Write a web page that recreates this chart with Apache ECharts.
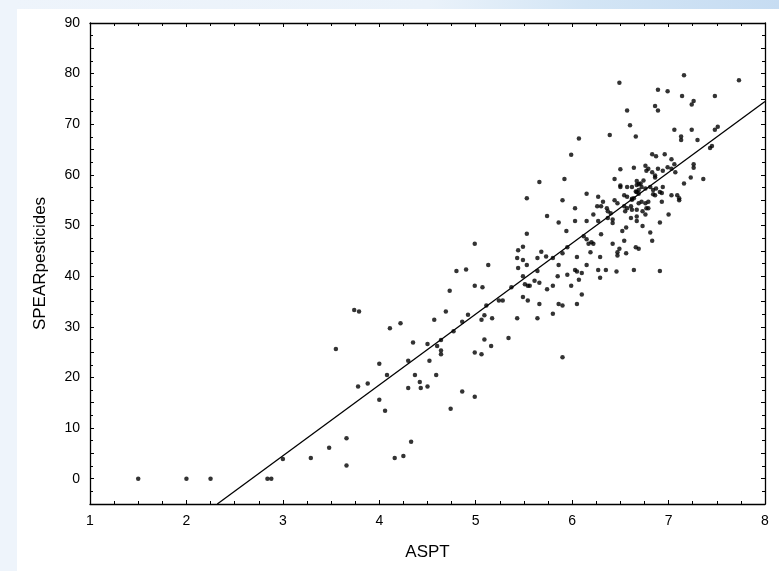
<!DOCTYPE html>
<html>
<head>
<meta charset="utf-8">
<script src="https://cdn.jsdelivr.net/npm/echarts@6/dist/echarts.min.js"></script>
<style>
html,body{margin:0;padding:0;width:779px;height:571px;overflow:hidden;}
body{background:linear-gradient(90deg,#eef4fb 0%,#eaf2fa 55%,#d3e5f5 75%,#c6dcf2 100%);position:relative;}
#panel{position:absolute;left:17px;top:9px;right:0;bottom:0;background:#fff;}
#leftstrip{position:absolute;left:0;top:0;width:17px;height:571px;background:#eef4fb;}
#chart{position:absolute;left:0;top:0;width:779px;height:571px;}
</style>
</head>
<body>
<div id="leftstrip"></div>
<div id="panel"></div>
<div id="chart"></div>
<script>
// Scatter data: ASPT (x) and SPEARpesticides (y)
const aspt = [
1.5,2.0,2.25,2.84,2.88,3.0,3.29,3.48,3.55,3.66,3.66,3.74,3.79,3.78,3.88,4.0,4.0,4.06,4.08,4.11,
4.16,4.22,4.25,4.30,4.30,4.33,4.35,4.37,4.42,4.43,4.50,4.50,4.52,4.57,4.59,4.60,4.64,4.64,4.64,4.69,
4.73,4.74,4.77,4.80,4.86,4.86,4.90,4.92,4.99,4.99,4.99,4.99,5.06,5.06,5.07,5.09,5.09,5.11,5.13,5.16,
5.17,5.24,5.28,5.34,5.37,5.43,5.43,5.44,5.44,5.49,5.49,5.49,5.49,5.51,5.53,5.53,5.53,5.54,5.54,5.56,
5.61,5.64,5.64,5.64,5.66,5.66,5.66,5.68,5.73,5.74,5.74,5.80,5.80,5.80,5.85,5.86,5.86,5.86,5.90,5.90,
5.90,5.90,5.92,5.94,5.95,5.95,5.99,5.99,
6.03,6.03,6.03,6.05,6.05,6.05,6.07,6.07,6.10,6.10,6.12,6.15,6.15,6.15,6.15,6.17,6.19,6.20,6.22,6.22,
6.26,6.27,6.27,6.27,6.29,6.29,6.30,6.30,6.32,6.35,6.36,6.37,6.37,6.39,6.40,6.42,6.42,6.42,6.44,6.44,
6.46,6.47,6.47,6.47,6.49,6.49,6.50,6.50,6.50,6.52,6.54,6.54,6.54,6.55,6.56,6.56,6.57,6.57,6.57,6.57,
6.60,6.61,6.61,6.62,6.62,6.62,6.62,6.64,6.64,6.64,6.66,6.66,6.66,6.67,6.67,6.67,6.67,6.67,6.67,6.69,
6.69,6.69,6.69,6.69,6.71,6.72,6.72,6.73,6.73,6.74,6.76,6.76,6.76,6.76,6.77,6.77,6.79,6.79,6.79,6.81,
6.81,6.83,6.83,6.83,6.84,6.84,6.86,6.86,6.86,6.86,6.87,6.87,6.89,6.89,6.89,6.91,6.91,6.91,6.93,6.93,
6.94,6.94,6.96,6.99,6.99,7.00,7.03,7.03,7.03,7.06,7.06,7.07,7.09,7.11,7.11,7.13,7.13,7.14,7.16,7.16,
7.23,7.24,7.24,7.26,7.26,7.26,7.30,7.36,7.43,7.45,7.48,7.48,7.51,7.73
];
const spear = [
0,0,0,0,0,3.9,4.1,6.1,25.6,8.0,2.6,33.3,33.0,18.2,18.8,22.7,15.6,13.4,20.5,29.7,
4.1,30.7,4.5,23.3,17.9,7.3,26.9,20.5,19.1,17.9,26.6,18.2,23.3,31.4,20.5,26.2,27.4,25.3,24.6,33.0,
37.1,13.8,29.1,41.0,31.0,17.2,41.3,32.4,46.4,38.1,24.9,16.2,31.4,24.6,37.8,32.3,27.5,34.2,42.2,26.2,
31.7,35.2,35.2,27.8,37.8,43.6,31.7,45.1,41.6,45.8,43.2,40.0,35.9,38.4,55.4,48.4,42.2,38.1,35.2,38.1,
39.1,43.6,41.0,31.7,58.6,38.7,34.5,44.8,43.9,51.9,37.4,43.6,38.1,32.6,40.0,50.6,42.2,34.5,55.0,44.5,
34.2,24.0,59.2,48.9,45.7,40.3,64.0,38.1,
53.4,50.9,41.2,43.8,40.9,34.5,67.2,39.3,40.6,36.4,47.9,56.3,50.9,47.3,42.2,46.4,44.7,46.7,52.2,46.4,
53.8,55.7,50.9,41.2,43.8,39.7,53.8,48.3,54.7,41.2,53.4,52.8,51.5,67.9,52.4,51.2,50.5,46.4,59.2,55.0,
40.9,54.4,44.7,44.1,78.2,45.4,61.1,57.9,57.6,48.9,56.0,53.8,47.0,52.8,49.6,44.5,72.7,57.6,55.7,53.4,
69.8,53.8,51.5,57.6,55.3,53.1,55.1,61.4,55.4,41.2,67.6,45.7,56.7,58.8,56.6,53.1,51.8,50.9,58.0,58.2,
56.3,57.0,54.4,45.4,58.3,57.6,54.7,52.8,49.9,58.9,61.8,57.3,54.4,52.2,60.8,53.4,61.2,54.7,53.4,57.6,
48.6,64.1,60.5,47.0,57.0,56.2,73.6,59.9,59.5,56.0,63.7,57.3,76.8,72.7,61.2,56.6,50.6,41.0,56.4,54.7,
60.8,57.6,64.1,76.5,61.5,52.2,63.1,61.2,56.0,68.9,62.1,60.5,56.0,55.4,55.0,67.6,66.9,75.6,79.7,58.3,
59.5,73.9,68.9,74.6,62.1,61.4,66.9,59.2,65.3,65.7,75.6,68.9,69.5,78.7
];
// Fitted regression line end points
const fitX = [2.32, 8.0];
const fitY = [-5.0, 74.5];
// Axis ranges
const xRange = [1, 8];
const yRange = [-5, 90];

const font = "'Liberation Sans', Arial, sans-serif";
const pts = aspt.map((x, i) => [x, spear[i]]);
const fit = fitX.map((x, i) => [x, fitY[i]]);

const chart = echarts.init(document.getElementById('chart'), null, {renderer: 'canvas'});
const axLine = {show: true, onZero: false, lineStyle: {color: '#000', width: 1.3}};
const tickX = {show: true, inside: true, length: 4, lineStyle: {color: '#000', width: 1}};
const minor = {show: true, length: 3, lineStyle: {color: '#000', width: 1}};
chart.setOption({
  animation: false,
  backgroundColor: 'transparent',
  grid: {left: 90, right: 14, top: 23, bottom: 67, containLabel: false},
  xAxis: [
    {type: 'value', min: xRange[0], max: xRange[1], interval: 1, position: 'bottom',
     axisLine: axLine, axisTick: tickX, minorTick: Object.assign({splitNumber: 4}, minor),
     splitLine: {show: false}, minorSplitLine: {show: false},
     axisLabel: {color: '#000', fontFamily: font, fontSize: 14, margin: 10},
     name: 'ASPT', nameLocation: 'middle', nameGap: 40,
     nameTextStyle: {color: '#000', fontFamily: font, fontSize: 17}},
    {type: 'value', min: xRange[0], max: xRange[1], interval: 1, position: 'top',
     axisLine: axLine, axisTick: tickX, minorTick: Object.assign({splitNumber: 4}, minor),
     splitLine: {show: false}, axisLabel: {show: false}}
  ],
  yAxis: [
    {type: 'value', min: yRange[0], max: yRange[1], interval: 5, position: 'left',
     axisLine: axLine, axisTick: tickX, minorTick: Object.assign({splitNumber: 2}, minor),
     splitLine: {show: false}, minorSplitLine: {show: false},
     axisLabel: {color: '#000', fontFamily: font, fontSize: 14, margin: 10,
       formatter: v => (v % 10 === 0 ? String(v) : '')},
     name: 'SPEARpesticides', nameLocation: 'middle', nameGap: 41, nameRotate: 90,
     nameTextStyle: {color: '#000', fontFamily: font, fontSize: 17}},
    {type: 'value', min: yRange[0], max: yRange[1], interval: 5, position: 'right',
     axisLine: axLine, axisTick: tickX, minorTick: Object.assign({splitNumber: 2}, minor),
     splitLine: {show: false}, axisLabel: {show: false}}
  ],
  series: [
    {type: 'scatter', xAxisIndex: 0, yAxisIndex: 0, data: pts, symbol: 'circle', symbolSize: 4.5,
     itemStyle: {color: '#000'}, silent: true},
    {type: 'line', xAxisIndex: 0, yAxisIndex: 0, data: fit, showSymbol: false, symbol: 'none',
     lineStyle: {color: '#000', width: 1.3}, silent: true}
  ]
});
</script>
</body>
</html>
